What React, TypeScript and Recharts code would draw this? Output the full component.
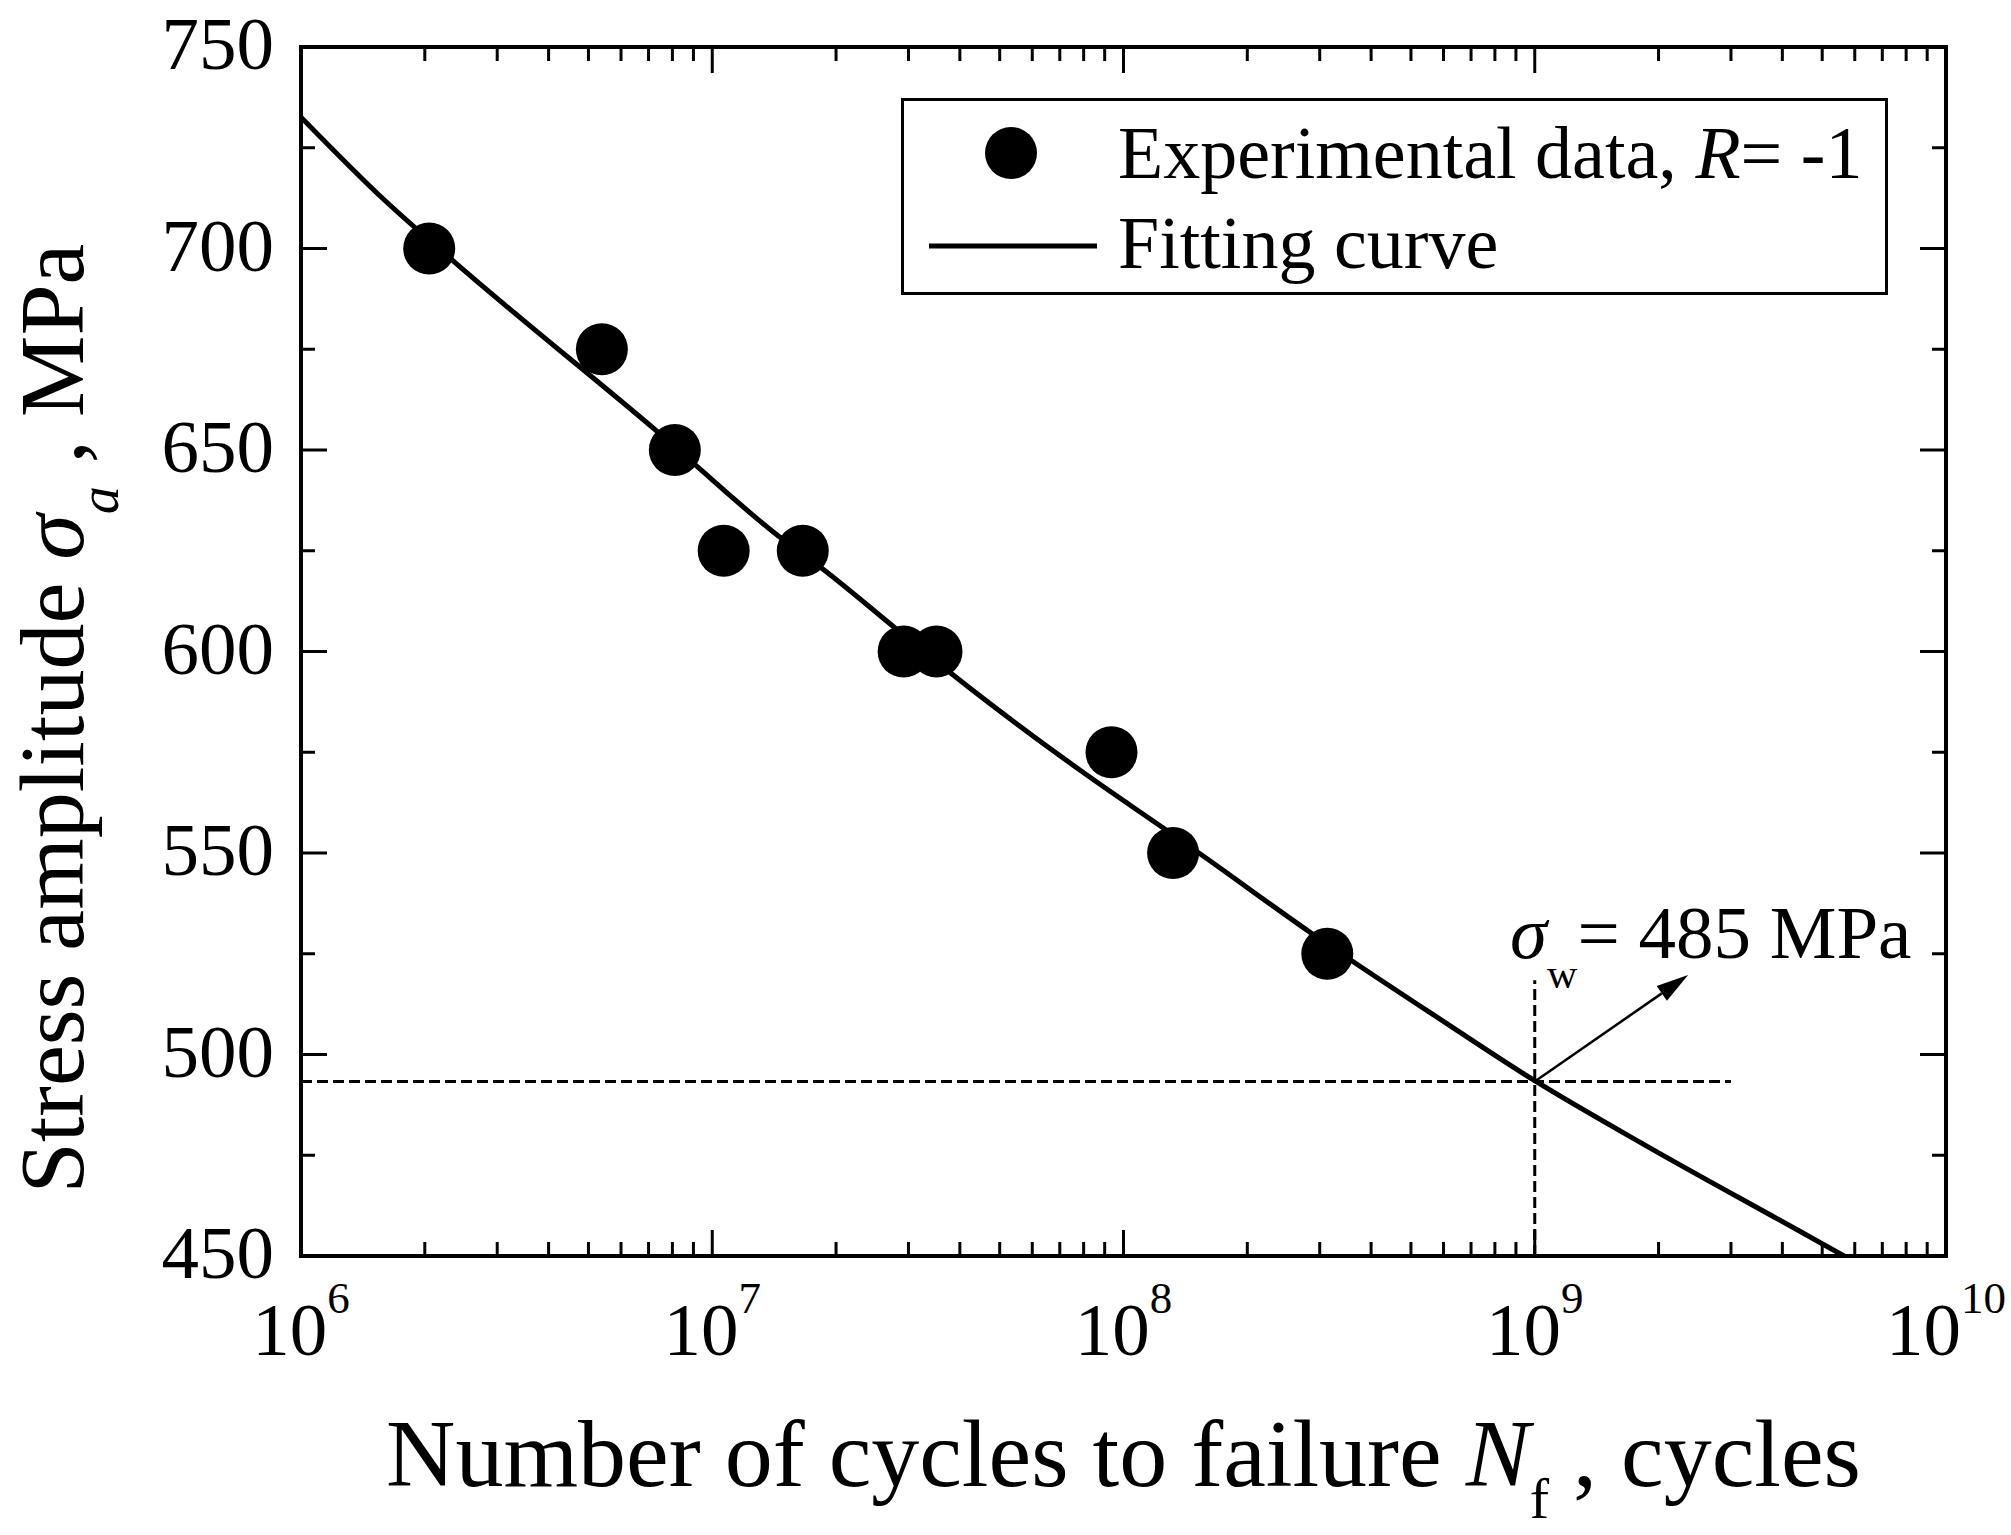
import React from 'react'
import {
  ComposedChart,
  Line,
  Scatter,
  XAxis,
  YAxis,
  ReferenceLine,
  ReferenceDot,
  Legend,
} from 'recharts'

const FONT = '"Liberation Serif", "Times New Roman", Times, serif'

// experimental points, R = -1
const expCycles = [2.05e6, 5.39e6, 8.11e6, 1.066e7, 1.66e7, 2.92e7, 3.51e7, 9.35e7, 1.32e8, 3.13e8]
const expStress = [700, 675, 650, 625, 625, 600, 600, 575, 550, 525]

// fitting curve
const fitCycles = [
  1e6, 1.6e6, 2.34e6, 7.33e6, 1.48e7, 1.85e7, 2.81e7, 3.84e7, 8.13e7, 1.27e8, 1.55e8, 2.88e8,
  6.19e8, 1e9, 1.9e9, 4.4e9, 5.65e9,
]
const fitStress = [
  732.6, 711.9, 697.0, 654.7, 627.9, 620.6, 605.5, 594.3, 569.4, 555.7, 549.5, 529.9, 507.3,
  493.5, 476.9, 456.2, 450,
]

// axes
const xDecades = [1e6, 1e7, 1e8, 1e9, 1e10]
const xExponents = ['6', '7', '8', '9', '10']
const xMinorSteps = [2, 3, 4, 5, 6, 7, 8, 9]
const yMajor = [450, 500, 550, 600, 650, 700, 750]
const yMinor = [475, 525, 575, 625, 675, 725]

// fatigue limit annotation
const limitCycles = 1e9
const limitStress = 493.3
const limitLineEnd = 3e9
const limitMarkTop = 518.4
const arrowTip = { n: 2.36e9, stress: 519.7 }
const labelAt = { n: 8.71e8, stress: 523.9 }
const labelSymbol = 'σ'
const labelSub = 'w'
const labelText = '= 485 MPa'

const legendLabels = ['Experimental data, ', 'R', '= -1', 'Fitting curve']

const xMinor = xDecades.slice(0, -1).flatMap((d) => xMinorSteps.map((m) => m * d))
const xTicks = [...xDecades, ...xMinor].sort((a, b) => a - b)
const yTicks = [...yMajor, ...yMinor].sort((a, b) => a - b)

const expData = expCycles.map((n, i) => ({ n, stress: expStress[i] }))
const fitData = fitCycles.map((n, i) => ({ n, stress: fitStress[i] }))

const MAJOR = 26
const MINOR = 14
const TICK_W = 3
const AXIS = { stroke: '#000', strokeWidth: 4, strokeLinecap: 'square' as const }

function BottomTick({ x, y, payload }: any) {
  const i = xDecades.indexOf(payload.value)
  const major = i >= 0
  return (
    <g>
      <line x1={x} x2={x} y1={y} y2={y - (major ? MAJOR : MINOR)} stroke="#000" strokeWidth={TICK_W} />
      {major && (
        <text x={x} y={y + 99} textAnchor="middle" fontFamily={FONT} fontSize={75} fill="#000">
          10
          <tspan dy={-42} fontSize={45}>
            {xExponents[i]}
          </tspan>
        </text>
      )}
    </g>
  )
}

function TopTick({ x, y, payload }: any) {
  const major = xDecades.includes(payload.value)
  return <line x1={x} x2={x} y1={y} y2={y + (major ? MAJOR : MINOR)} stroke="#000" strokeWidth={TICK_W} />
}

function LeftTick({ x, y, payload }: any) {
  const major = yMajor.includes(payload.value)
  return (
    <g>
      <line x1={x} x2={x + (major ? MAJOR : MINOR)} y1={y} y2={y} stroke="#000" strokeWidth={TICK_W} />
      {major && (
        <text x={x - 27} y={y + 22} textAnchor="end" fontFamily={FONT} fontSize={75} fill="#000">
          {payload.value}
        </text>
      )}
    </g>
  )
}

function RightTick({ x, y, payload }: any) {
  const major = yMajor.includes(payload.value)
  return <line x1={x} x2={x - (major ? MAJOR : MINOR)} y1={y} y2={y} stroke="#000" strokeWidth={TICK_W} />
}

function XTitle({ viewBox }: any) {
  const cx = viewBox.x + viewBox.width / 2
  const cy = viewBox.y + 230
  return (
    <text x={cx} y={cy} textAnchor="middle" fontFamily={FONT} fontSize={96} fill="#000">
      Number of cycles to failure{' '}
      <tspan fontStyle="italic">N</tspan>
      <tspan fontSize={58} dy={32}>
        f
      </tspan>
      <tspan dy={-32}> , cycles</tspan>
    </text>
  )
}

function YTitle({ viewBox }: any) {
  const cx = viewBox.x + viewBox.width - 218
  const cy = viewBox.y + viewBox.height / 2 + 67
  return (
    <text
      transform={`translate(${cx},${cy}) rotate(-90)`}
      textAnchor="middle"
      fontFamily={FONT}
      fontSize={92}
      fill="#000"
    >
      Stress amplitude{' '}
      <tspan fontStyle="italic">σ</tspan>
      <tspan fontStyle="italic" fontSize={56} dy={35}>
        a
      </tspan>
      <tspan dy={-35}> , MPa</tspan>
    </text>
  )
}

function ExpDot({ cx, cy }: any) {
  return <circle cx={cx} cy={cy} r={26} fill="#000" />
}

function Arrow({ x1, y1, x2, y2 }: any) {
  const ang = Math.atan2(y2 - y1, x2 - x1)
  const len = 32
  const half = 9
  const bx = x2 - len * Math.cos(ang)
  const by = y2 - len * Math.sin(ang)
  const px = -Math.sin(ang) * half
  const py = Math.cos(ang) * half
  return (
    <g>
      <line x1={x1} y1={y1} x2={bx} y2={by} stroke="#000" strokeWidth={2.5} />
      <polygon points={`${x2},${y2} ${bx + px},${by + py} ${bx - px},${by - py}`} fill="#000" />
    </g>
  )
}

function LimitLabel({ cx, cy }: any) {
  return (
    <text x={cx} y={cy} fontFamily={FONT} fontSize={75} fill="#000">
      <tspan fontStyle="italic">{labelSymbol}</tspan>
      <tspan fontSize={42} dy={30}>
        {labelSub}
      </tspan>
      <tspan dy={-30}>{labelText}</tspan>
    </text>
  )
}

function LegendBox() {
  return (
    <svg width={987} height={197} style={{ display: 'block' }}>
      <rect x={1.5} y={1.5} width={984} height={194} fill="#fff" stroke="#000" strokeWidth={3} />
      <circle cx={110} cy={55} r={26} fill="#000" />
      <text x={217} y={80} fontFamily={FONT} fontSize={74} fill="#000">
        {legendLabels[0]}
        <tspan fontStyle="italic">{legendLabels[1]}</tspan>
        {legendLabels[2]}
      </text>
      <line x1={28} x2={196} y1={148} y2={148} stroke="#000" strokeWidth={5} />
      <text x={217} y={170} fontFamily={FONT} fontSize={74} fill="#000">
        {legendLabels[3]}
      </text>
    </svg>
  )
}

export default function App() {
  const dashed = { stroke: '#000', strokeWidth: 3, strokeDasharray: '11 5' }
  return (
    <div style={{ position: 'absolute', left: 0, top: 0, width: 2011, height: 1535, background: '#fff' }}>
      <ComposedChart width={2011} height={1535} margin={{ top: 37, right: 55, bottom: 179, left: 201 }}>
        <XAxis
          dataKey="n"
          type="number"
          scale="log"
          domain={[1e6, 1e10]}
          ticks={xTicks}
          interval={0}
          allowDataOverflow
          height={100}
          tickLine={false}
          tickSize={0}
          tickMargin={0}
          tick={<BottomTick />}
          axisLine={AXIS}
          label={{ content: XTitle }}
        />
        <XAxis
          xAxisId="top"
          orientation="top"
          dataKey="n"
          type="number"
          scale="log"
          domain={[1e6, 1e10]}
          ticks={xTicks}
          interval={0}
          allowDataOverflow
          height={10}
          tickLine={false}
          tickSize={0}
          tickMargin={0}
          tick={<TopTick />}
          axisLine={AXIS}
        />
        <YAxis
          dataKey="stress"
          type="number"
          domain={[450, 750]}
          ticks={yTicks}
          interval={0}
          allowDataOverflow
          width={100}
          tickLine={false}
          tickSize={0}
          tickMargin={0}
          tick={<LeftTick />}
          axisLine={AXIS}
          label={{ content: YTitle }}
        />
        <YAxis
          yAxisId="right"
          orientation="right"
          dataKey="stress"
          type="number"
          domain={[450, 750]}
          ticks={yTicks}
          interval={0}
          allowDataOverflow
          width={10}
          tickLine={false}
          tickSize={0}
          tickMargin={0}
          tick={<RightTick />}
          axisLine={AXIS}
        />
        <ReferenceLine
          segment={[
            { x: xDecades[0], y: limitStress },
            { x: limitLineEnd, y: limitStress },
          ]}
          {...dashed}
        />
        <ReferenceLine
          segment={[
            { x: limitCycles, y: yMajor[0] },
            { x: limitCycles, y: limitMarkTop },
          ]}
          {...dashed}
        />
        <ReferenceLine
          segment={[
            { x: limitCycles, y: limitStress },
            { x: arrowTip.n, y: arrowTip.stress },
          ]}
          shape={Arrow}
        />
        <Line
          data={fitData}
          dataKey="stress"
          name={legendLabels[3]}
          type="monotone"
          stroke="#000"
          strokeWidth={5}
          dot={false}
          activeDot={false}
          legendType="line"
          isAnimationActive={false}
        />
        <Scatter
          data={expData}
          dataKey="stress"
          name={legendLabels[0] + legendLabels[1] + legendLabels[2]}
          fill="#000"
          shape={ExpDot}
          legendType="circle"
          isAnimationActive={false}
        />
        <ReferenceDot x={labelAt.n} y={labelAt.stress} r={0} shape={LimitLabel} />
        <Legend
          layout="vertical"
          align="center"
          verticalAlign="middle"
          content={LegendBox}
          wrapperStyle={{ left: 901, top: 98, width: 987, height: 197, margin: 0, padding: 0 }}
        />
      </ComposedChart>
    </div>
  )
}
